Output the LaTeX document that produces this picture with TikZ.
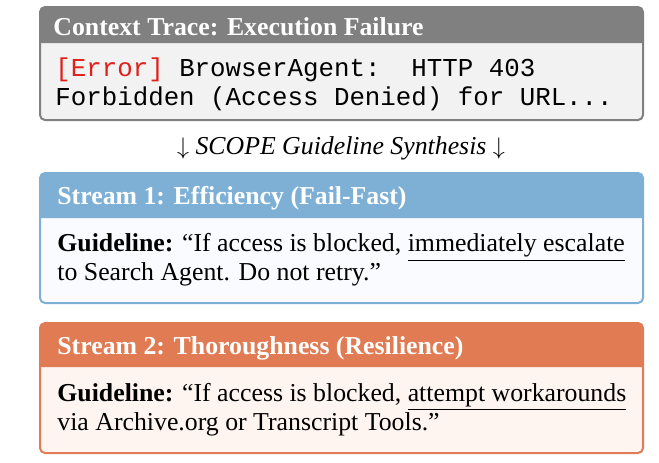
\documentclass[tikz,border=0pt]{standalone}
\usepackage{fontspec}
\setmainfont{Liberation Serif}
\setmonofont{Liberation Mono}
\usepackage{tikz}
\usetikzlibrary{positioning}
\definecolor{tracegray}{HTML}{808080}
\definecolor{tracebg}{HTML}{F2F2F2}
\definecolor{errorred}{HTML}{E0201B}
\definecolor{effblue}{HTML}{7EB0D6}
\definecolor{effbg}{HTML}{F9FBFE}
\definecolor{resorange}{HTML}{E07B53}
\definecolor{resbg}{HTML}{FEF5F0}

\begin{document}
\begin{tikzpicture}[
    x=0.5pt, y=-0.5pt,
    panel/.style={rounded corners=2.5pt, line width=1pt},
    header/.style={font=\fontsize{12.9}{14.5}\selectfont\bfseries, text=white, anchor=base west, inner sep=0pt},
    guideline/.style={font=\fontsize{12.9}{14.5}\selectfont, align=left, anchor=north west, inner sep=0pt},
    tracetext/.style={guideline, font=\fontsize{12.9}{14.5}\selectfont\ttfamily}
]
\useasboundingbox (0,0) rectangle (659,462);

\fill[panel, tracebg] (40,7) rectangle (643,120);
\fill[tracegray] (40,43) [rounded corners=2.5pt] -- (40,7) -- (643,7) [sharp corners] -- (643,43) -- cycle;
\draw[panel, tracegray] (40,7) rectangle (643,120);

\fill[panel, effbg] (40,173) rectangle (643,303);
\fill[effblue] (40,218) [rounded corners=2.5pt] -- (40,173) -- (643,173) [sharp corners] -- (643,218) -- cycle;
\draw[panel, effblue] (40,173) rectangle (643,303);

\fill[panel, resbg] (40,323) rectangle (643,453);
\fill[resorange] (40,367) [rounded corners=2.5pt] -- (40,323) -- (643,323) [sharp corners] -- (643,367) -- cycle;
\draw[panel, resorange] (40,323) rectangle (643,453);

\node[header] (ctxtitle) at (53,35) {Context Trace: Execution Failure};
\node[tracetext] (ctxtrace) at (55,57) {\textcolor{errorred}{[Error]} BrowserAgent:\ \ HTTP 403\\Forbidden (Access Denied) for URL...};

\node[guideline, anchor=base, font=\fontsize{12.9}{14.5}\selectfont\itshape] (synth) at (341,154) {$\downarrow$ SCOPE Guideline Synthesis $\downarrow$};

\node[header] (efftitle) at (57,204) {Stream 1: Efficiency (Fail-Fast)};
\node[guideline] (effbody) at (57,233) {\textbf{Guideline:} ``If access is blocked, \underline{immediately escalate}\\to Search Agent. Do not retry.''};

\node[header] (restitle) at (57,354) {Stream 2: Thoroughness (Resilience)};
\node[guideline] (resbody) at (57,383) {\textbf{Guideline:} ``If access is blocked, \underline{attempt workarounds}\\via Archive.org or Transcript Tools.''};

\end{tikzpicture}
\end{document}
